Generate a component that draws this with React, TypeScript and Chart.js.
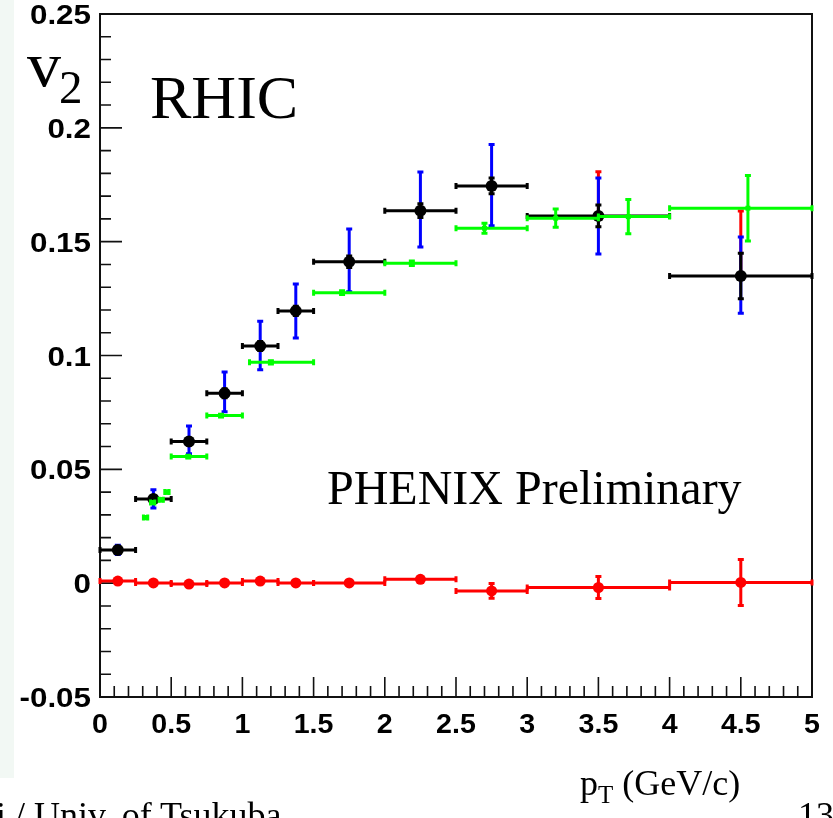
import React, { useEffect, useRef } from 'react';
import { Chart, registerables } from 'chart.js';

Chart.register(...registerables);

// ---- axis ranges / ticks ----
const X_MIN = 0;
const X_MAX = 5;
const Y_MIN = -0.05;
const Y_MAX = 0.25;
const X_STEP = 0.5;
const Y_STEP = 0.05;

// ---- black points (with blue error bars) ----
const BLACK_PT = [0.125, 0.375, 0.625, 0.875, 1.125, 1.375, 1.75, 2.25, 2.75, 3.5, 4.5];
const BIN_LO = [0, 0.25, 0.5, 0.75, 1.0, 1.25, 1.5, 2.0, 2.5, 3.0, 4.0];
const BIN_HI = [0.25, 0.5, 0.75, 1.0, 1.25, 1.5, 2.0, 2.5, 3.0, 4.0, 5.0];
const BLACK_V2 = [0.0146, 0.037, 0.0622, 0.0834, 0.1042, 0.1196, 0.1412, 0.1636, 0.1745, 0.1613, 0.1349];
const BLACK_ERR = [0.001, 0.0015, 0.0015, 0.002, 0.002, 0.002, 0.0025, 0.003, 0.0035, 0.0048, 0.01];
const BLUE_LO = [0.0126, 0.033, 0.0568, 0.0753, 0.0937, 0.1077, 0.128, 0.1477, 0.157, 0.1446, 0.1186];
const BLUE_HI = [0.0166, 0.041, 0.069, 0.0928, 0.115, 0.1314, 0.1556, 0.1806, 0.1927, 0.178, 0.152];

// ---- red error bars visible above blue ----
const REDSYS_PT = [3.5, 4.5];
const REDSYS_LO = [0.1613, 0.1349];
const REDSYS_HI = [0.1807, 0.1635];

// ---- green points ----
const GREEN_PT = [0.32, 0.37, 0.43, 0.47, 0.62, 0.85, 1.2, 1.7, 2.19, 2.7, 3.2, 3.71, 4.55];
const GREEN_LO = [0.305, 0.355, 0.415, 0.455, 0.5, 0.75, 1.05, 1.5, 2.0, 2.5, 3.0, 3.5, 4.0];
const GREEN_HI = [0.335, 0.385, 0.445, 0.485, 0.75, 1.0, 1.5, 2.0, 2.5, 3.0, 3.5, 4.0, 5.0];
const GREEN_V2 = [0.0288, 0.0354, 0.0366, 0.04, 0.0556, 0.0736, 0.097, 0.1276, 0.1405, 0.1559, 0.1603, 0.161, 0.1647];
const GREEN_ERR = [0.0005, 0.0005, 0.0005, 0.0005, 0.0006, 0.0006, 0.0007, 0.0008, 0.001, 0.0022, 0.004, 0.0075, 0.0144];

// ---- red points near zero ----
const RED_V2 = [0.0009, 0.0001, -0.0004, 0.0001, 0.0009, 0.0001, 0.0001, 0.0017, -0.0034, -0.0019, 0.0003];
const RED_ERR = [0.0005, 0.0005, 0.0005, 0.0005, 0.0005, 0.0005, 0.0006, 0.0008, 0.0032, 0.0048, 0.0101];

const build = (
  xs: number[],
  ys: number[],
  xl?: number[],
  xh?: number[],
  yl?: number[],
  yh?: number[]
) =>
  xs.map((x, i) => ({
    x,
    y: ys[i],
    xl: xl ? xl[i] : undefined,
    xh: xh ? xh[i] : undefined,
    yl: yl ? yl[i] : undefined,
    yh: yh ? yh[i] : undefined,
  }));

const fmt = (v: number) => String(parseFloat(Number(v).toFixed(3)));

const errorBarPlugin = {
  id: 'errorBars',
  beforeDatasetDraw(chart: any, args: any) {
    const ds = chart.data.datasets[args.index];
    const eb = ds.errorBars;
    if (!eb) return;
    const { ctx } = chart;
    const xs = chart.scales.x;
    const ys = chart.scales.y;
    ctx.save();
    ctx.strokeStyle = eb.color;
    ctx.lineWidth = eb.width;
    ctx.lineCap = 'butt';
    const c = eb.cap / 2;
    ds.data.forEach((p: any) => {
      const px = xs.getPixelForValue(p.x);
      const py = ys.getPixelForValue(p.y);
      ctx.beginPath();
      if (p.xl !== undefined && p.xh !== undefined) {
        const a = xs.getPixelForValue(p.xl);
        const b = xs.getPixelForValue(p.xh);
        ctx.moveTo(a, py);
        ctx.lineTo(b, py);
        ctx.moveTo(a, py - c);
        ctx.lineTo(a, py + c);
        ctx.moveTo(b, py - c);
        ctx.lineTo(b, py + c);
      }
      if (p.yl !== undefined && p.yh !== undefined) {
        const a = ys.getPixelForValue(p.yl);
        const b = ys.getPixelForValue(p.yh);
        if (Math.abs(a - b) > 1) {
          ctx.moveTo(px, a);
          ctx.lineTo(px, b);
          ctx.moveTo(px - c, a);
          ctx.lineTo(px + c, a);
          ctx.moveTo(px - c, b);
          ctx.lineTo(px + c, b);
        }
      }
      ctx.stroke();
    });
    ctx.restore();
  },
};

const framePlugin = {
  id: 'rootFrame',
  beforeDatasetsDraw(chart: any) {
    const { ctx, chartArea: a } = chart;
    const xs = chart.scales.x;
    const ys = chart.scales.y;
    ctx.save();
    ctx.strokeStyle = '#111';
    ctx.lineWidth = 2;
    ctx.strokeRect(a.left, a.top, a.right - a.left, a.bottom - a.top);
    ctx.lineWidth = 1.6;
    ctx.beginPath();
    const ny = Math.round((Y_MAX - Y_MIN) / 0.01);
    for (let i = 0; i <= ny; i++) {
      const py = ys.getPixelForValue(Y_MIN + i * 0.01);
      const len = i % 5 === 0 ? 22 : 11;
      ctx.moveTo(a.left, py);
      ctx.lineTo(a.left + len, py);
    }
    const nx = Math.round((X_MAX - X_MIN) / 0.1);
    for (let i = 0; i <= nx; i++) {
      const px = xs.getPixelForValue(X_MIN + i * 0.1);
      const len = i % 5 === 0 ? 20 : 11;
      ctx.moveTo(px, a.bottom);
      ctx.lineTo(px, a.bottom - len);
    }
    ctx.stroke();
    ctx.restore();
  },
};

// tick labels of the library's scales, drawn slightly widened like the original
const labelPlugin = {
  id: 'wideTickLabels',
  afterDraw(chart: any) {
    const { ctx, chartArea: a } = chart;
    const xs = chart.scales.x;
    const ys = chart.scales.y;
    ctx.save();
    ctx.fillStyle = '#000';
    ctx.textBaseline = 'alphabetic';
    ctx.font = 'bold 28px "Liberation Sans", Arial, sans-serif';
    ys.ticks.forEach((t: any) => {
      const py = ys.getPixelForValue(t.value);
      ctx.save();
      ctx.translate(a.left - 9, py + 10);
      ctx.scale(1.12, 1);
      ctx.textAlign = 'right';
      ctx.fillText(fmt(t.value), 0, 0);
      ctx.restore();
    });
    ctx.font = 'bold 27px "Liberation Sans", Arial, sans-serif';
    xs.ticks.forEach((t: any) => {
      const px = xs.getPixelForValue(t.value);
      ctx.save();
      ctx.translate(px, a.bottom + 36);
      ctx.scale(1.06, 1);
      ctx.textAlign = 'center';
      ctx.fillText(fmt(t.value), 0, 0);
      ctx.restore();
    });
    ctx.restore();
  },
};

const SERIF = '"Liberation Serif", "Times New Roman", serif';

export default function App() {
  const canvasRef = useRef<HTMLCanvasElement | null>(null);

  useEffect(() => {
    const canvas = canvasRef.current;
    if (!canvas) return;
    const chart = new Chart(canvas, {
      type: 'scatter',
      data: {
        datasets: [
          {
            label: 'green',
            data: build(
              GREEN_PT,
              GREEN_V2,
              GREEN_LO,
              GREEN_HI,
              GREEN_V2.map((v, i) => v - GREEN_ERR[i]),
              GREEN_V2.map((v, i) => v + GREEN_ERR[i])
            ),
            pointStyle: 'rect',
            pointRadius: 3.5,
            backgroundColor: '#00ff00',
            borderColor: '#00ff00',
            borderWidth: 0,
            errorBars: { color: '#00ff00', width: 3, cap: 6 },
          } as any,
          {
            label: 'black',
            data: build(
              BLACK_PT,
              BLACK_V2,
              BIN_LO,
              BIN_HI,
              BLACK_V2.map((v, i) => v - BLACK_ERR[i]),
              BLACK_V2.map((v, i) => v + BLACK_ERR[i])
            ),
            pointStyle: 'circle',
            pointRadius: 6,
            backgroundColor: '#000',
            borderColor: '#000',
            borderWidth: 0,
            errorBars: { color: '#000', width: 3, cap: 6 },
          } as any,
          {
            label: 'blue',
            data: build(BLACK_PT, BLACK_V2, undefined, undefined, BLUE_LO, BLUE_HI),
            pointRadius: 0,
            errorBars: { color: '#0000ff', width: 3, cap: 6 },
          } as any,
          {
            label: 'redsys',
            data: build(REDSYS_PT, REDSYS_LO, undefined, undefined, REDSYS_LO, REDSYS_HI),
            pointRadius: 0,
            errorBars: { color: '#ff0000', width: 3, cap: 6 },
          } as any,
          {
            label: 'red',
            data: build(
              BLACK_PT,
              RED_V2,
              BIN_LO,
              BIN_HI,
              RED_V2.map((v, i) => v - RED_ERR[i]),
              RED_V2.map((v, i) => v + RED_ERR[i])
            ),
            pointStyle: 'circle',
            pointRadius: 5.5,
            backgroundColor: '#ff0000',
            borderColor: '#ff0000',
            borderWidth: 0,
            errorBars: { color: '#ff0000', width: 3, cap: 6 },
          } as any,
        ],
      },
      options: {
        animation: false,
        responsive: true,
        maintainAspectRatio: false,
        layout: { padding: { left: 8, right: 21, top: 14, bottom: 0 } },
        plugins: {
          legend: { display: false },
          tooltip: { enabled: false },
        },
        scales: {
          x: {
            type: 'linear',
            min: X_MIN,
            max: X_MAX,
            grid: { display: false, drawTicks: false },
            border: { display: false },
            ticks: { stepSize: X_STEP, display: false },
            afterFit: (s: any) => {
              s.height = 121;
            },
          },
          y: {
            type: 'linear',
            min: Y_MIN,
            max: Y_MAX,
            grid: { display: false, drawTicks: false },
            border: { display: false },
            ticks: { stepSize: Y_STEP, display: false },
            afterFit: (s: any) => {
              s.width = 92;
            },
          },
        },
      },
      plugins: [framePlugin, errorBarPlugin, labelPlugin],
    } as any);
    return () => chart.destroy();
  }, []);

  const txt = (style: React.CSSProperties): React.CSSProperties => ({
    position: 'absolute',
    fontFamily: SERIF,
    lineHeight: 1,
    color: '#000',
    whiteSpace: 'nowrap',
    pointerEvents: 'none',
    ...style,
  });

  return (
    <div
      style={{
        position: 'fixed',
        left: 0,
        top: 0,
        width: 833,
        height: 818,
        background: '#fff',
        overflow: 'hidden',
      }}
    >
      <div style={{ position: 'absolute', left: 0, top: 0, width: 14, height: 778, background: '#f2f8f4' }} />
      <div style={{ position: 'absolute', left: 0, top: 0, width: 833, height: 818 }}>
        <canvas ref={canvasRef} />
      </div>
      <div style={txt({ left: 27, top: 34, fontSize: 63, transform: 'scaleX(1.08)', transformOrigin: 'left top' })}>v</div>
      <div style={txt({ left: 59, top: 64, fontSize: 47 })}>2</div>
      <div style={txt({ left: 150, top: 66, fontSize: 62 })}>RHIC</div>
      <div style={txt({ left: 327, top: 464, fontSize: 48 })}>PHENIX Preliminary</div>
      <div style={txt({ left: 580, top: 765, fontSize: 36 })}>
        p<span style={{ fontSize: 25, position: 'relative', top: 8 }}>T</span> (GeV/c)
      </div>
      <div style={txt({ left: -4, top: 797, fontSize: 36 })}>i / Univ. of Tsukuba</div>
      <div style={txt({ left: 798, top: 797, fontSize: 36 })}>13</div>
    </div>
  );
}
